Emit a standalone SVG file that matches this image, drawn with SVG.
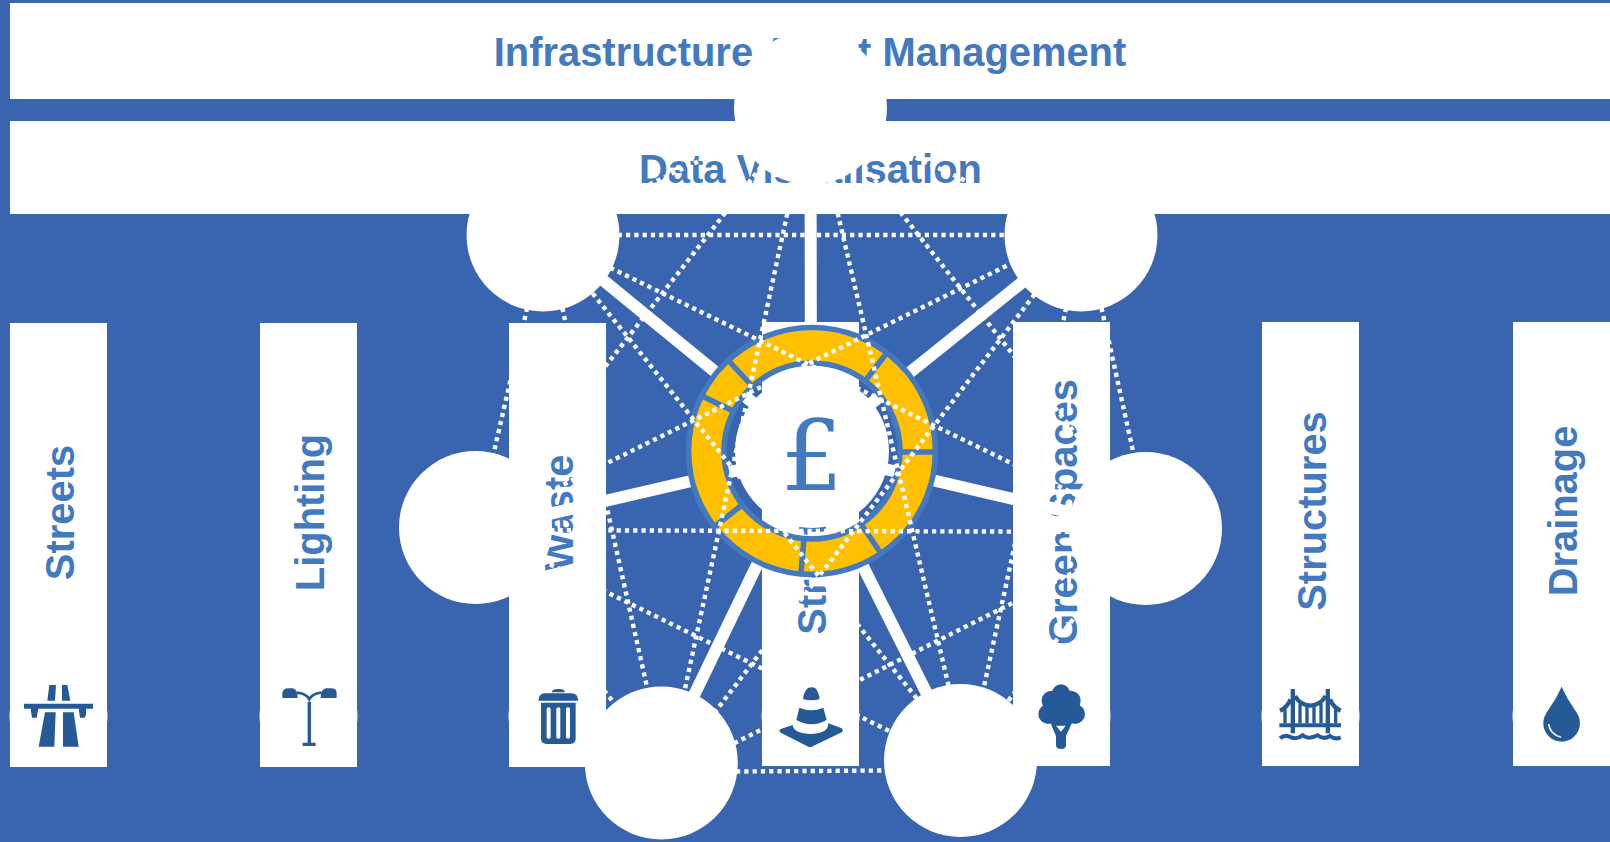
<svg xmlns="http://www.w3.org/2000/svg" width="1610" height="842" viewBox="0 0 1610 842">
<defs>
<style>
.w{fill:#fff}
.t{font-family:"Liberation Sans",Arial,sans-serif;font-weight:700;font-size:39.9px;fill:#4379BE;text-anchor:middle}
.sp{stroke:#fff;stroke-width:12;fill:none}
.dot{stroke:#fff;stroke-width:4.4;stroke-dasharray:4.2 4.1;fill:none}
.ic{fill:#255A96}
.ics{stroke:#255A96;fill:none}
.gap{stroke:#4379BE;stroke-width:5.5;fill:none}
</style>
</defs>
<rect width="1610" height="842" fill="#3864B0"/>

<g id="bar-asset"><rect class="w" x="10" y="3" width="1600" height="96"/><text class="t" x="810" y="66">Infrastructure Asset Management</text></g>
<g id="bar-data"><rect class="w" x="10" y="121" width="1600" height="93"/><text class="t" x="810.5" y="183">Data Visualisation</text></g>

<g id="col-streets"><rect class="w" x="10" y="323" width="97" height="444"/><text class="t" transform="translate(73.5 512.5) rotate(-90)">Streets</text><circle class="w" cx="58.5" cy="716" r="49"/></g>
<g id="col-lighting"><rect class="w" x="260" y="323" width="97" height="444"/><text class="t" transform="translate(323.5 512.5) rotate(-90)">Lighting</text><circle class="w" cx="308.5" cy="716" r="49"/></g>
<g id="col-waste"><rect class="w" x="509" y="323" width="97" height="444"/><text class="t" transform="translate(573 512.5) rotate(-90)">Waste</text><circle class="w" cx="557.5" cy="716" r="49"/></g>
<g id="col-streetworks"><rect class="w" x="762" y="322" width="97" height="444"/><text class="t" transform="translate(825.5 512) rotate(-90)">Street Works</text><circle class="w" cx="810.5" cy="716" r="49"/></g>
<g id="col-greenspaces"><rect class="w" x="1013" y="322" width="97" height="444"/><text class="t" transform="translate(1077 512) rotate(-90)">Green Spaces</text><circle class="w" cx="1061.5" cy="716" r="49"/></g>
<g id="col-structures"><rect class="w" x="1262" y="322" width="97" height="444"/><text class="t" transform="translate(1326 511) rotate(-90)">Structures</text><circle class="w" cx="1310.5" cy="716" r="49"/></g>
<g id="col-drainage"><rect class="w" x="1513" y="322" width="97" height="444"/><text class="t" transform="translate(1577 511) rotate(-90)">Drainage</text><circle class="w" cx="1561.5" cy="716" r="49"/></g>

<g id="connectors">
<g id="spokes">
<line class="sp" x1="810.5" y1="108" x2="811" y2="451"/>
<line class="sp" x1="543" y1="231" x2="812" y2="451"/>
<line class="sp" x1="1081" y1="235" x2="812" y2="451"/>
<line class="sp" x1="475.5" y1="531" x2="812" y2="453"/>
<line class="sp" x1="1145.5" y1="530" x2="812" y2="452"/>
<line class="sp" x1="661.3" y1="763" x2="812" y2="451"/>
<line class="sp" x1="960.5" y1="760.5" x2="805" y2="451"/>
</g>
</g>

<g id="hub-ring">
<circle cx="812" cy="451" r="105.5" fill="none" stroke="#FFC000" stroke-width="31"/>
<circle cx="812" cy="451" r="123.5" fill="none" stroke="#4379BE" stroke-width="5.5"/>
<circle cx="812" cy="451" r="88" fill="none" stroke="#4379BE" stroke-width="5.5"/>
<line class="gap" x1="752" y1="386" x2="728" y2="360"/>
<line class="gap" x1="733" y1="411" x2="702" y2="396"/>
<line class="gap" x1="742" y1="505" x2="714" y2="527"/>
<line class="gap" x1="804" y1="539" x2="801" y2="572"/>
<line class="gap" x1="861" y1="524" x2="880" y2="552"/>
<line class="gap" x1="901" y1="452" x2="934" y2="452"/>
<line class="gap" x1="865" y1="381" x2="886" y2="354"/>
</g>

<g id="mesh">
<line class="dot" x1="810.5" y1="108" x2="543" y2="235"/>
<line class="dot" x1="810.5" y1="108" x2="1081" y2="235"/>
<line class="dot" x1="807" y1="108" x2="480" y2="527"/>
<line class="dot" x1="818" y1="108" x2="1150" y2="528"/>
<line class="dot" x1="810" y1="108" x2="669" y2="763"/>
<line class="dot" x1="813" y1="108" x2="966" y2="760"/>
<line class="dot" x1="543" y1="235" x2="1081" y2="235"/>
<line class="dot" x1="544" y1="235" x2="476.500" y2="527.5"/>
<line class="dot" x1="543" y1="235" x2="1145.5" y2="528.5"/>
<line class="dot" x1="546" y1="235" x2="664" y2="763"/>
<line class="dot" x1="546" y1="235" x2="966" y2="760"/>
<line class="dot" x1="1081" y1="229" x2="475.5" y2="528"/>
<line class="dot" x1="1085.5" y1="235" x2="1150" y2="528.5"/>
<line class="dot" x1="1080" y1="235" x2="676" y2="763"/>
<line class="dot" x1="1082" y1="235" x2="968" y2="760"/>
<line class="dot" x1="475.5" y1="530" x2="1145.5" y2="532"/>
<line class="dot" x1="475.5" y1="527.5" x2="661.3" y2="763"/>
<line class="dot" x1="475.5" y1="527.7" x2="960.5" y2="766"/>
<line class="dot" x1="1145.5" y1="536" x2="661.3" y2="780"/>
<line class="dot" x1="1145.5" y1="528.5" x2="960.5" y2="760.5"/>
<line class="dot" x1="661.3" y1="772" x2="960.5" y2="770"/>
</g>

<circle id="node-top" class="w" cx="810.5" cy="108" r="76.5"/>
<circle id="node-top-left" class="w" cx="543" cy="235" r="76.5"/>
<circle id="node-top-right" class="w" cx="1081" cy="235" r="76.5"/>
<circle id="node-left" class="w" cx="475.5" cy="527.5" r="76.5"/>
<circle id="node-right" class="w" cx="1145.5" cy="528.5" r="76.5"/>
<circle id="node-bottom-left" class="w" cx="661.3" cy="763" r="76.5"/>
<circle id="node-bottom-right" class="w" cx="960.5" cy="760.5" r="76.5"/>

<g id="hub"><circle class="w" cx="812" cy="451" r="77"/><text x="812" y="490" text-anchor="middle" font-family="DejaVu Serif, serif" font-size="98" fill="#4379BE">£</text></g>

<g id="icon-streets" transform="translate(0 660) scale(.3333)">
<path class="ic" d="M148,75H168L165,122H142ZM186,75H202L211,122H186ZM72,131H279V146H258V165L254,173H240L236,146H115L110,173H96L92,146H72ZM135,157H167L163,260H116ZM189,157H221L236,260H189Z"/>
</g>
<g id="icon-lighting" transform="translate(0 660) scale(.3333)">
<path class="ic" d="M908,248H947V258H908ZM923,125H933V250H923ZM847,114V98Q850,85 865,85H878Q893,88 893,114ZM962,114Q962,88 978,85H992Q1010,85 1010,98V114Z"/>
<path class="ics" stroke-width="8" d="M890,98Q918,100 928,118Q938,100 965,98"/>
</g>
<g id="icon-waste" transform="translate(500 660) scale(.3333)">
<path class="ic" d="M155,97Q158,87 172,87H180Q192,87 195,97ZM115,122Q116,101 135,100H215Q234,101 235,122ZM123,128H227V235Q227,252 210,252H140Q123,252 123,235Z"/>
<rect class="w" x="140" y="142" width="12" height="94" rx="6"/><rect class="w" x="169" y="142" width="12" height="94" rx="6"/><rect class="w" x="198" y="142" width="12" height="94" rx="6"/>
</g>
<g id="icon-streetworks" transform="translate(760 670) scale(.3333)">
<path class="ic" d="M130,88Q128,80 135,65Q142,52 155,52Q168,52 173,65Q180,82 178,88Q155,94 130,88ZM118,113Q155,128 190,113L200,150Q155,175 109,150ZM98,165Q100,190 155,192Q205,190 205,160L245,175Q252,182 245,187L155,230Q150,232 145,230L62,188Q55,182 62,177Z"/>
</g>
<g id="icon-greenspaces" transform="translate(1020 670) scale(.3333)">
<circle class="ic" cx="123" cy="70" r="27"/><circle class="ic" cx="95" cy="92" r="30"/><circle class="ic" cx="152" cy="92" r="30"/><circle class="ic" cx="85" cy="132" r="30"/><circle class="ic" cx="165" cy="132" r="30"/><circle class="ic" cx="123" cy="115" r="45"/>
<path class="ic" d="M88,150L108,198V225Q108,237 123,237Q138,237 138,225V198L160,150Z"/>
<path class="w" d="M108,167H137L123,185Z"/>
</g>
<g id="icon-structures" transform="translate(1250 660) scale(.3333)">
<path class="ic" d="M122,87H135V220H122ZM227,87H240V220H227ZM88,190H273V202H88Z"/>
<path class="ics" stroke-width="13" d="M135,108Q150,135 181,137Q212,135 227,108M122,118Q112,142 90,152M240,118Q250,142 272,152"/>
<path class="ics" stroke-width="10" d="M150,130V190M171,138V190M192,138V190M213,130V190M105,148V190M257,148V190"/>
<path class="ics" stroke-width="12" d="M90,235Q105,222 123,232Q142,240 158,226Q175,240 203,226Q220,240 240,228Q255,240 272,232"/>
</g>
<g id="icon-drainage" transform="translate(1250 660) scale(.3333)">
<path class="ic" d="M935,80Q950,115 975,150Q990,170 990,190A55,55 0 0 1 880,190Q880,170 895,150Q920,115 935,80Z"/>
<path d="M896,192Q900,222 933,232" fill="none" stroke="#fff" stroke-width="5"/>
</g>
</svg>
